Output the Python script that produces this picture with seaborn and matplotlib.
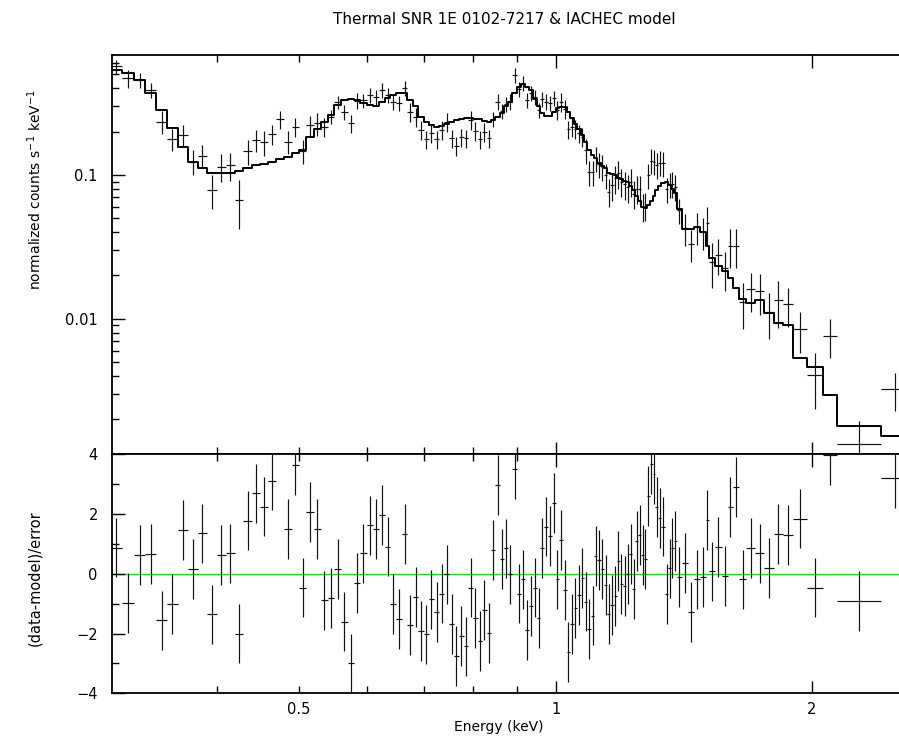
import numpy as np
import pandas as pd
import matplotlib
matplotlib.use("Agg")
import matplotlib.pyplot as plt
import seaborn as sns
from matplotlib.ticker import FixedLocator, NullFormatter, FuncFormatter

# ---------------- data ----------------
energy_edges = [
    0.30, 0.31, 0.32, 0.33, 0.34, 0.35, 0.36, 0.37, 0.38, 0.39,
    0.40, 0.41, 0.42, 0.43, 0.44, 0.45, 0.46, 0.47, 0.48, 0.49,
    0.50, 0.51, 0.52, 0.53, 0.54, 0.55, 0.56, 0.57, 0.58, 0.59,
    0.60, 0.61, 0.62, 0.63, 0.64, 0.65, 0.66, 0.67, 0.68, 0.69,
    0.70, 0.71, 0.72, 0.73, 0.74, 0.75, 0.76, 0.77, 0.78, 0.79,
    0.80, 0.81, 0.82, 0.83, 0.84, 0.85, 0.86, 0.87, 0.88, 0.89,
    0.90, 0.91, 0.92, 0.93, 0.94, 0.95, 0.96, 0.97, 0.98, 0.99,
    1.00, 1.01, 1.02, 1.03, 1.04, 1.05, 1.06, 1.07, 1.08, 1.09,
    1.10, 1.11, 1.12, 1.13, 1.14, 1.15, 1.16, 1.17, 1.18, 1.19,
    1.20, 1.21, 1.22, 1.23, 1.24, 1.25, 1.26, 1.27, 1.28, 1.29,
    1.30, 1.31, 1.32, 1.33,
    1.345, 1.356, 1.367, 1.376, 1.388, 1.406, 1.429, 1.454, 1.476, 1.500,
    1.515, 1.539, 1.567, 1.594, 1.615, 1.641, 1.675, 1.715, 1.758, 1.804,
    1.847, 1.898, 1.973, 2.062, 2.140, 2.410, 2.596,
]

flux = [
    0.57, 0.47, 0.46, 0.39, 0.235, 0.178, 0.19, 0.124, 0.136, 0.079,
    0.114, 0.117, 0.067, 0.147, 0.175, 0.169, 0.193, 0.244, 0.17, 0.215,
    0.147, 0.223, 0.229, 0.215, 0.254, 0.321, 0.275, 0.229, 0.329, 0.33,
    0.36, 0.35, 0.39, 0.36, 0.324, 0.317, 0.404, 0.275, 0.254, 0.206,
    0.177, 0.195, 0.177, 0.206, 0.235, 0.18, 0.159, 0.183, 0.18, 0.241,
    0.202, 0.177, 0.2, 0.18, 0.244, 0.324, 0.279, 0.312, 0.324, 0.495,
    0.394, 0.434, 0.333, 0.37, 0.35, 0.283, 0.336, 0.324, 0.317, 0.341,
    0.283, 0.324, 0.289, 0.208, 0.217, 0.21, 0.195, 0.185, 0.149, 0.105,
    0.105, 0.131, 0.119, 0.114, 0.1, 0.0766, 0.085, 0.095, 0.103, 0.09,
    0.086, 0.082, 0.09, 0.074, 0.08, 0.08, 0.0602, 0.061, 0.1, 0.126,
    0.124, 0.118, 0.122, 0.121, 0.08, 0.086, 0.087, 0.083, 0.057, 0.043,
    0.033, 0.0437, 0.0404, 0.0461, 0.025, 0.0278, 0.0224, 0.0322, 0.0322, 0.0131,
    0.016, 0.0155, 0.0112, 0.0134, 0.0126, 0.0085, 0.00406, 0.0076, 0.00134, 0.00324,
]

flux_rel_err = [
    0.11, 0.15, 0.12, 0.12, 0.18, 0.18, 0.18, 0.20, 0.18, 0.27,
    0.22, 0.22, 0.37, 0.20, 0.18, 0.20, 0.16, 0.15, 0.18, 0.15,
    0.19, 0.16, 0.18, 0.15, 0.11, 0.11, 0.12, 0.15, 0.13, 0.11,
    0.12, 0.12, 0.12, 0.12, 0.12, 0.12, 0.12, 0.15, 0.15, 0.15,
    0.15, 0.15, 0.15, 0.15, 0.15, 0.15, 0.15, 0.15, 0.15, 0.15,
    0.15, 0.15, 0.15, 0.15, 0.12, 0.12, 0.12, 0.12, 0.12, 0.12,
    0.12, 0.12, 0.12, 0.12, 0.12, 0.12, 0.12, 0.12, 0.12, 0.12,
    0.15, 0.15, 0.15, 0.15, 0.15, 0.15, 0.15, 0.15, 0.20, 0.20,
    0.20, 0.20, 0.20, 0.20, 0.20, 0.22, 0.22, 0.22, 0.22, 0.22,
    0.22, 0.22, 0.22, 0.22, 0.22, 0.22, 0.22, 0.22, 0.20, 0.20,
    0.20, 0.20, 0.20, 0.20, 0.20, 0.20, 0.20, 0.20, 0.20, 0.25,
    0.25, 0.25, 0.25, 0.30, 0.35, 0.28, 0.30, 0.30, 0.30, 0.35,
    0.30, 0.32, 0.35, 0.36, 0.30, 0.32, 0.42, 0.30, 0.45, 0.30,
]

model = [
    0.537, 0.509, 0.458, 0.37, 0.283, 0.211, 0.157, 0.124, 0.111, 0.104,
    0.103, 0.104, 0.107, 0.112, 0.117, 0.12, 0.124, 0.129, 0.134, 0.142,
    0.149, 0.184, 0.208, 0.235, 0.261, 0.307, 0.333, 0.337, 0.333, 0.316,
    0.307, 0.304, 0.324, 0.341, 0.36, 0.373, 0.37, 0.333, 0.30, 0.254,
    0.235, 0.223, 0.215, 0.219, 0.226, 0.235, 0.241, 0.246, 0.249, 0.249,
    0.246, 0.244, 0.238, 0.235, 0.241, 0.254, 0.27, 0.30, 0.324, 0.37,
    0.41, 0.43, 0.412, 0.387, 0.34, 0.302, 0.268, 0.258, 0.258, 0.274,
    0.292, 0.297, 0.296, 0.274, 0.248, 0.228, 0.209, 0.19, 0.17, 0.149,
    0.138, 0.131, 0.122, 0.116, 0.112, 0.103, 0.102, 0.1, 0.096, 0.093,
    0.091, 0.089, 0.084, 0.079, 0.071, 0.066, 0.06, 0.059, 0.062, 0.066,
    0.071, 0.078, 0.084, 0.088, 0.089, 0.085, 0.08, 0.075, 0.058, 0.042,
    0.042, 0.0437, 0.0404, 0.0322, 0.0263, 0.0231, 0.0216, 0.0191, 0.0163, 0.0137,
    0.0129, 0.0134, 0.0109, 0.0093, 0.0091, 0.00531, 0.00465, 0.00295, 0.00178, 0.00154,
]

residual = [
    0.88, -0.97, 0.64, 0.67, -1.56, -1.0, 1.47, 0.17, 1.35, -1.36,
    0.64, 0.68, -2.0, 1.78, 2.69, 2.25, 3.12, 5.9, 1.49, 3.63,
    -0.46, 2.06, 1.5, -0.89, -0.8, 0.17, -1.6, -3.0, -0.3, 0.68,
    1.62, 1.5, 1.97, 0.91, -1.01, -1.52, 1.34, -1.72, -0.77, -1.92,
    -2.03, -0.86, -1.29, -0.66, -0.02, -1.68, -2.74, -2.07, -2.43, -0.46,
    -1.48, -2.26, -1.22, -1.98, 0.8, 2.97, 0.49, 0.85, -0.02, 3.5,
    -0.66, -0.19, -1.87, -1.08, -0.46, -1.48, 0.87, 1.58, 1.27, 2.37,
    -0.19, 1.13, -0.55, -2.62, -1.69, -1.14, -0.7, -0.14, -0.93, -1.84,
    -1.4, 0.59, 0.45, 0.17, -0.38, -1.34, -1.05, -0.74, 0.43, -0.35,
    -0.4, 0.0, 0.67, -0.5, 1.11, 1.3, 0.62, 0.49, 2.61, 3.66,
    3.33, 2.23, 1.86, 1.58, -0.68, 0.18, 0.87, 1.11, -0.1, 0.36,
    -1.29, -0.19, -0.1, 1.81, 0.08, 0.9, -0.07, 2.24, 2.91, -0.19,
    0.87, 0.68, 0.2, 1.34, 1.3, 1.85, -0.46, 3.97, -0.9, 3.19,
]

x_major = [1, 2]
x_minor = [0.4, 0.5, 0.6, 0.7, 0.8, 0.9]
y_top_major = [0.01, 0.1]
y_res_major = [-4, -2, 0, 2, 4]
y_res_minor = [-3, -1, 1, 3]

title = "Thermal SNR 1E 0102-7217 & IACHEC model"

# ---------------- style ----------------
sns.set_theme(style="white")
plt.rcParams['font.family'] = ['DejaVu Sans']
plt.rcParams.update({
    'text.color': 'black', 'axes.labelcolor': 'black',
    'xtick.color': 'black', 'ytick.color': 'black',
    'axes.edgecolor': 'black', 'axes.linewidth': 1.2,
})

edges = np.array(energy_edges)
lo, hi = edges[:-1], edges[1:]
center = np.sqrt(lo * hi)
xerr = np.vstack([center - lo, hi - center])
flux_a = np.array(flux)
yerr_top = flux_a * np.array(flux_rel_err)

fig = plt.figure(figsize=(8.99, 7.40), dpi=100)
L, R = 111.7 / 899, 1.0
ax1 = fig.add_axes([L, 1 - 454.3 / 740, R - L, (454.3 - 55) / 740])
ax2 = fig.add_axes([L, 1 - 693.3 / 740, R - L, (693.3 - 454.3) / 740])

# top panel: data + model
ax1.errorbar(center, flux_a, xerr=xerr, yerr=yerr_top, fmt='none',
             ecolor='#111111', elinewidth=0.85, capsize=0)
df_model = pd.DataFrame({'E': edges, 'model': model + [model[-1]]})
sns.lineplot(data=df_model, x='E', y='model', drawstyle='steps-post',
             color='black', linewidth=1.4, estimator=None, sort=False, ax=ax1)
ax1.set_xscale('log')
ax1.set_yscale('log')
ax1.set_xlim(0.3013, 2.53)
ax1.set_ylim(0.00114, 0.683)
ax1.set_xlabel('')
ax1.set_ylabel('')

# residual panel
ax2.errorbar(center, residual, xerr=xerr, yerr=1.0, fmt='none',
             ecolor='#111111', elinewidth=0.85, capsize=0)
ax2.axhline(0, color='#22dd22', linewidth=1.0, zorder=0)
ax2.set_xscale('log')
ax2.set_xlim(0.3013, 2.53)
ax2.set_ylim(-4, 4)

for ax in (ax1, ax2):
    ax.xaxis.set_major_locator(FixedLocator(x_major))
    ax.xaxis.set_minor_locator(FixedLocator(x_minor))
    ax.tick_params(which='both', direction='in', top=True, bottom=True,
                   left=True, right=False, width=1.0, color='black')
    ax.tick_params(which='major', length=9)
    ax.tick_params(which='minor', length=5)
    ax.spines['right'].set_visible(False)
    for s in ('top', 'bottom', 'left'):
        ax.spines[s].set_linewidth(1.3)

ax1.xaxis.set_major_formatter(NullFormatter())
ax1.xaxis.set_minor_formatter(NullFormatter())
ax1.yaxis.set_major_locator(FixedLocator(y_top_major))
ax1.yaxis.set_major_formatter(FuncFormatter(lambda v, p: f"{v:g}"))
ax1.yaxis.set_minor_locator(matplotlib.ticker.LogLocator(base=10, subs=np.arange(2, 10), numticks=20))
ax1.yaxis.set_minor_formatter(NullFormatter())
ax1.tick_params(axis='y', labelsize=10.5, pad=10)

ax2.xaxis.set_major_formatter(FuncFormatter(lambda v, p: f"{v:g}"))
ax2.xaxis.set_minor_formatter(FuncFormatter(lambda v, p: "0.5" if abs(v - 0.5) < 1e-9 else ""))
ax2.tick_params(axis='x', which='both', labelsize=10.5, pad=6)
ax2.yaxis.set_major_locator(FixedLocator(y_res_major))
ax2.yaxis.set_minor_locator(FixedLocator(y_res_minor))
ax2.yaxis.set_major_formatter(FuncFormatter(lambda v, p: f"{v:g}".replace('-', '\u2212')))
ax2.tick_params(axis='y', labelsize=10.5, pad=10)

fig.text(504 / 899, 1 - 19 / 740, title, ha='center', va='center', fontsize=11)
fig.text(35 / 899, 1 - 190 / 740, r'normalized counts s$^{-1}$ keV$^{-1}$',
         rotation=90, ha='center', va='center', fontsize=10)
fig.text(35 / 899, 1 - 578 / 740, '(data-model)/error',
         rotation=90, ha='center', va='center', fontsize=10.5)
fig.text(499 / 899, 1 - 727 / 740, 'Energy (keV)', ha='center', va='center', fontsize=10)

fig.savefig('out.png', dpi=100)
